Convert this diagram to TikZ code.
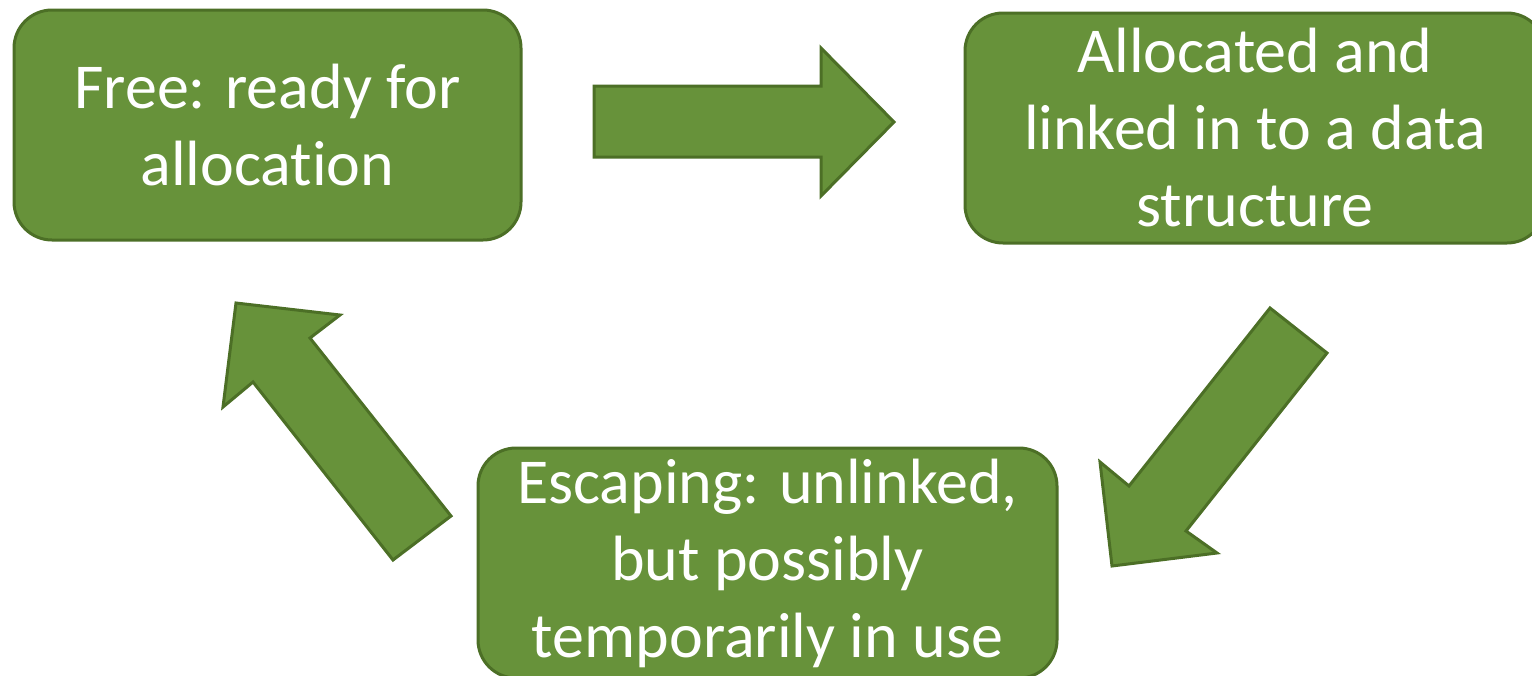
\documentclass[tikz,border=0pt]{standalone}
\usepackage{fontspec}
\setmainfont[Ligatures={NoCommon}]{Carlito}
\definecolor{boxfill}{HTML}{67923A}
\definecolor{boxline}{HTML}{4C6F26}
\tikzset{
  statebox/.style={fill=boxfill, draw=boxline, line width=3pt, rounded corners=38pt},
  statetext/.style={text=white, align=center, font=\fontsize{64}{77}\selectfont, inner sep=0pt},
  blockarrow/.style={fill=boxfill, draw=boxline, line width=3pt, line join=miter}
}
\begin{document}
\begin{tikzpicture}[x=1pt,y=-1pt]
\useasboundingbox (0,0) rectangle (1532,675);
\clip (0,0) rectangle (1532,675);
% boxes
\draw[statebox] (14,10) rectangle (521,240);
\node[statetext] (free) at (267.5,125) {Free: ready for\\allocation};
\draw[statebox] (965,13) rectangle (1545,243);
\node[statetext] (alloc) at (1255,128) {Allocated and\\linked in to a data\\structure};
\draw[statebox] (478,448) rectangle (1057,678);
\node[statetext] (esc) at (767.5,563) {Escaping: unlinked,\\but possibly\\temporarily in use};
% arrows
\draw[blockarrow] (594,86) -- (821,86) -- (821,48) -- (894,122) -- (821,196) -- (821,157) -- (594,157) -- cycle;
\draw[blockarrow] (1270,308) -- (1327,353) -- (1186,531) -- (1217,553) -- (1112,566) -- (1100,462) -- (1129,486) -- cycle;
\draw[blockarrow] (451,516) -- (393,560) -- (253,382) -- (223,407) -- (236,303) -- (340,315) -- (310,338) -- cycle;
\end{tikzpicture}
\end{document}
